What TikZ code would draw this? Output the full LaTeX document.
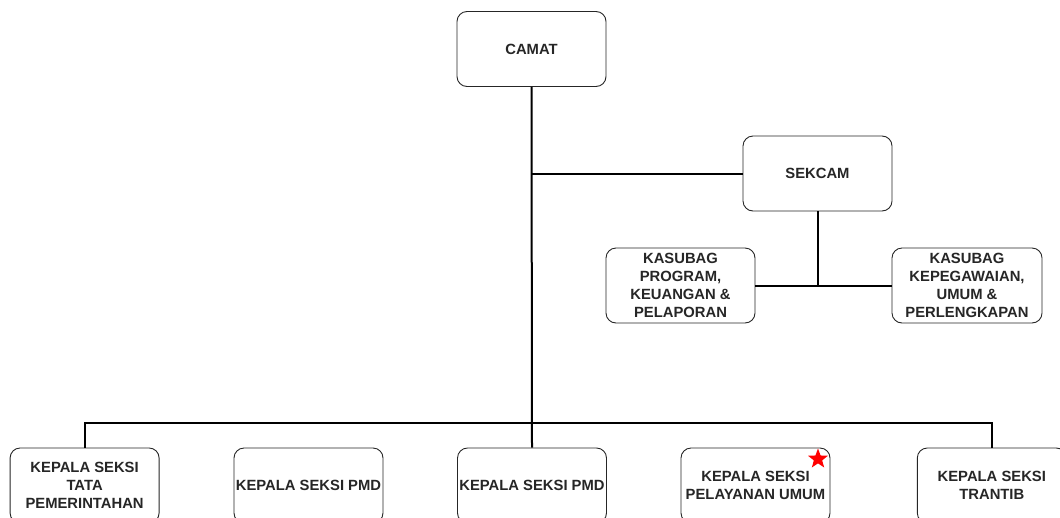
\documentclass[tikz,border=0pt]{standalone}
\usepackage{fontspec}
\setmainfont{Liberation Sans}
\usetikzlibrary{shapes.geometric}
\begin{document}
\begin{tikzpicture}[x=1pt,y=-1pt,
  box/.style={draw=black!85,line width=0.9pt,rounded corners=10pt,fill=white,
    minimum width=149pt,minimum height=75pt,inner sep=1pt,align=center,
    text=black!85,font=\fontsize{14.8}{17.8}\selectfont\bfseries},
  link/.style={draw=black,line width=2pt}]
\useasboundingbox (0,0) rectangle (1060,517);
% top level
\node[box] (camat) at (531.5,49) {CAMAT};
\node[box] (sekcam) at (817.5,173.5) {SEKCAM};
\node[box] (kprog) at (680.5,285.5) {KASUBAG\\PROGRAM,\\KEUANGAN \&\\PELAPORAN};
\node[box,minimum width=150pt] (kpeg) at (967,285.5) {KASUBAG\\KEPEGAWAIAN,\\UMUM \&\\PERLENGKAPAN};
% sections
\node[box] (b1) at (84.6,485.5) {KEPALA SEKSI\\TATA\\PEMERINTAHAN};
\node[box] (b2) at (308.5,485.5) {KEPALA SEKSI PMD};
\node[box] (b3) at (532,485.5) {KEPALA SEKSI PMD};
\node[box] (b4) at (755.5,485.5) {KEPALA SEKSI\\PELAYANAN UMUM};
\node[box] (b5) at (991.8,485.5) {KEPALA SEKSI\\TRANTIB};
\node[star,star points=5,star point ratio=2.4,fill=red,draw=none,
  minimum size=21pt,inner sep=0pt] (mark) at (818,459) {};
% connectors
\coordinate (bus) at (532,423);
\draw[link] (camat.south) -- (b3.north);
\draw[link] (b1.north) |- (bus) -| (b5.north);
\draw[link] (camat.south |- sekcam.west) -- (sekcam.west);
\draw[link] (sekcam.south) -- (sekcam.south |- kprog.east);
\draw[link] (kprog.east) -- (kpeg.west);
\end{tikzpicture}
\end{document}
